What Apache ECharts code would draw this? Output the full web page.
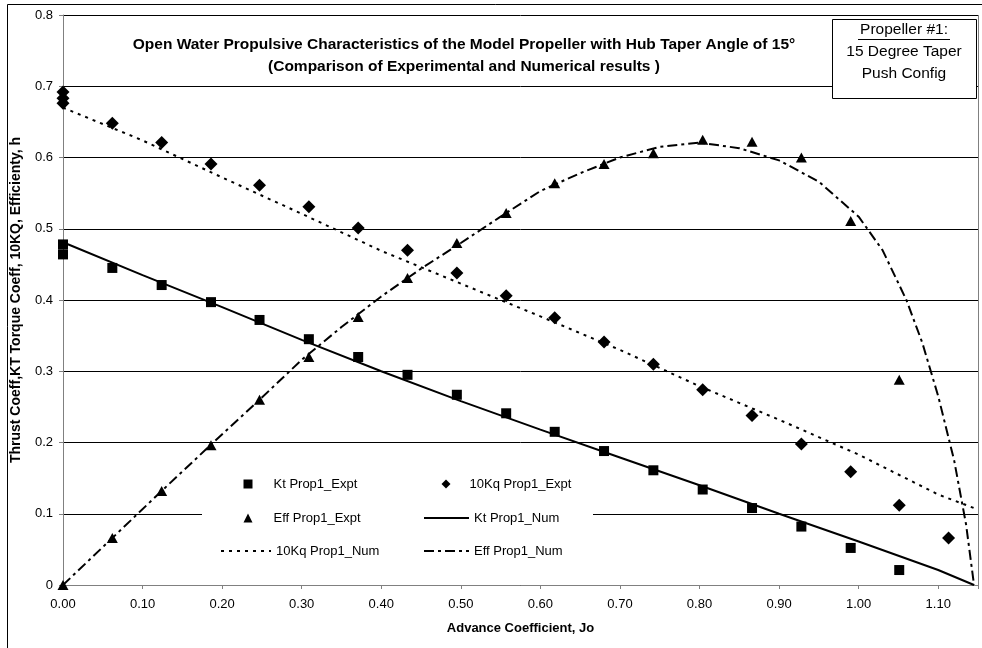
<!DOCTYPE html>
<html>
<head>
<meta charset="utf-8">
<script src="https://cdn.jsdelivr.net/npm/echarts@6/dist/echarts.min.js"></script>
<style>
    html, body { margin: 0; padding: 0; background: #fff; }
    #chart { width: 982px; height: 648px; }
</style>
</head>
<body>
<div id="chart"></div>
<script>
// advance coefficient of the test runs
var jExpt = [0.000, 0.062, 0.124, 0.186, 0.247, 0.309, 0.371, 0.433, 0.495, 0.557, 0.618, 0.680, 0.742, 0.804, 0.866, 0.928, 0.990, 1.051, 1.113];
var ktExpt = [0.478, 0.445, 0.421, 0.397, 0.372, 0.345, 0.320, 0.295, 0.267, 0.241, 0.215, 0.188, 0.161, 0.134, 0.108, 0.082, 0.052, 0.021, null];
var kqExpt = [0.692, 0.648, 0.621, 0.591, 0.561, 0.531, 0.501, 0.470, 0.438, 0.406, 0.375, 0.341, 0.310, 0.274, 0.238, 0.198, 0.159, 0.112, 0.066];
var effExpt = [0.000, 0.066, 0.132, 0.196, 0.260, 0.320, 0.376, 0.431, 0.480, 0.522, 0.564, 0.591, 0.606, 0.625, 0.622, 0.600, 0.511, 0.288, null];
// repeated runs at J = 0
var ktExptRepeat = [0.464];
var kqExptRepeat = [0.683, 0.676];

// numerical results
var jNum = [0.0, 0.1, 0.2, 0.3, 0.4, 0.5, 0.6, 0.7, 0.8, 0.9, 1.0, 1.1, 1.145];
var ktNum = [0.481, 0.435, 0.390, 0.344, 0.300, 0.258, 0.218, 0.179, 0.140, 0.100, 0.061, 0.021, 0.000];
var kqNum = [0.670, 0.624, 0.572, 0.521, 0.469, 0.423, 0.377, 0.330, 0.279, 0.232, 0.183, 0.127, 0.108];
var jEffNum = [0.0, 0.062, 0.124, 0.186, 0.247, 0.3, 0.35, 0.4, 0.45, 0.5, 0.55, 0.6, 0.65, 0.7, 0.75, 0.8, 0.85, 0.9, 0.95, 1.0, 1.03, 1.06, 1.08, 1.1, 1.12, 1.135, 1.145];
var effNum = [0.000, 0.066, 0.132, 0.197, 0.260, 0.316, 0.362, 0.405, 0.444, 0.480, 0.517, 0.553, 0.578, 0.600, 0.615, 0.621, 0.613, 0.596, 0.566, 0.517, 0.470, 0.400, 0.340, 0.265, 0.175, 0.085, 0.000];

var titleLines = ['Open Water Propulsive Characteristics of the Model Propeller with Hub Taper Angle of 15\u00b0',
    '(Comparison of Experimental and Numerical results )'];
var noteLines = ['Propeller #1:', '15 Degree Taper', 'Push Config'];

var FONT = '"Liberation Sans", Arial, sans-serif';
var NONE = 'rgba(0,0,0,0)';

// legend keys keep their shape when drawn as paths
var ICON_SQUARE = 'path://M0,0L10,0L10,10L0,10Z';
var ICON_DIAMOND = 'path://M5,0L10,5L5,10L0,5Z';
var ICON_TRIANGLE = 'path://M5,0L10,10L0,10Z';

function pairs(xs, ys, extra) {
    var out = [];
    for (var i = 0; i < xs.length; i++) {
        if (ys[i] !== null) out.push([xs[i], ys[i]]);
    }
    (extra || []).forEach(function (v) { out.push([0, v]); });
    return out;
}

// one legend per entry so the keys sit in Excel-like columns
function legendAt(name, icon, left, top, width, textPad) {
    var item = { name: name };
    if (icon) item.icon = icon;
    return {
        data: [item],
        left: left,
        top: top,
        padding: 0,
        itemWidth: width,
        itemHeight: 9,
        symbolKeepAspect: true,
        selectedMode: false,
        textStyle: { fontFamily: FONT, fontSize: 13, color: '#000', lineHeight: 16, padding: [0, 0, 0, textPad] }
    };
}

var chart = echarts.init(document.getElementById('chart'));

chart.setOption({
    animation: false,
    backgroundColor: '#fff',
    title: {
        text: titleLines.join('\n'),
        left: 464,
        top: 34,
        textAlign: 'center',
        padding: 0,
        textStyle: { fontFamily: FONT, fontSize: 15.5, fontWeight: 'bold', color: '#000', lineHeight: 22 }
    },
    grid: { left: 63, right: 4, top: 15, bottom: 63 },
    xAxis: {
        type: 'value',
        min: 0,
        max: 1.15,
        interval: 0.1,
        name: 'Advance Coefficient, Jo',
        nameLocation: 'middle',
        nameGap: 37,
        nameTextStyle: { fontFamily: FONT, fontSize: 13, fontWeight: 'bold', color: '#000' },
        axisLine: { lineStyle: { color: '#808080', width: 1 } },
        axisTick: { length: 4, lineStyle: { color: '#808080' } },
        splitLine: { show: false },
        axisLabel: {
            margin: 13,
            fontFamily: FONT,
            fontSize: 13,
            color: '#000',
            formatter: function (v) {
                return Math.abs(v * 10 - Math.round(v * 10)) < 1e-6 ? v.toFixed(2) : '';
            }
        }
    },
    yAxis: {
        type: 'value',
        min: 0,
        max: 0.8,
        interval: 0.1,
        name: 'Thrust Coeff,KT Torque Coeff, 10KQ, Efficienty, h',
        nameLocation: 'middle',
        nameGap: 40,
        nameTextStyle: { fontFamily: FONT, fontSize: 14, fontWeight: 'bold', color: '#000' },
        axisLine: { show: true, lineStyle: { color: '#808080', width: 1 } },
        axisTick: { show: true, length: 4, lineStyle: { color: '#808080' } },
        splitLine: { lineStyle: { color: '#000', width: 1 } },
        axisLabel: {
            margin: 10,
            fontFamily: FONT,
            fontSize: 13,
            color: '#000',
            formatter: function (v) { return v === 0 ? '0' : v.toFixed(1); }
        }
    },
    legend: [
        legendAt('Kt Prop1_Expt', ICON_SQUARE, 243.5, 476, 9, 16),
        legendAt('Eff Prop1_Expt', ICON_TRIANGLE, 243.5, 510, 9, 16),
        legendAt('10Kq Prop1_Num', null, 220, 543, 50, 0),
        legendAt('10Kq Prop1_Expt', ICON_DIAMOND, 441.5, 476, 9, 14),
        legendAt('Kt Prop1_Num', null, 423, 510, 45, 0),
        legendAt('Eff Prop1_Num', null, 423, 543, 45, 0)
    ],
    graphic: [
        // outer chart frame
        { type: 'rect', z: 0, silent: true, shape: { x: 7.5, y: 4.5, width: 1000, height: 700 },
          style: { fill: 'none', stroke: '#000', lineWidth: 1 } },
        // right edge of plot area
        { type: 'line', z: 1, silent: true, shape: { x1: 978.5, y1: 15, x2: 978.5, y2: 585 },
          style: { stroke: '#808080', lineWidth: 1 } },
        // legend background hides gridline
        { type: 'rect', z: 3, silent: true, shape: { x: 202, y: 458, width: 391, height: 112 },
          style: { fill: '#fff' } },
        // note box
        { type: 'rect', z: 5, silent: true, shape: { x: 832.5, y: 19.5, width: 144, height: 79 },
          style: { fill: '#fff', stroke: '#000', lineWidth: 1 } },
        { type: 'text', z: 6, silent: true, style: { text: noteLines[0], x: 904, y: 30, align: 'center', verticalAlign: 'middle', font: '15.5px ' + FONT, fill: '#000' } },
        { type: 'line', z: 6, silent: true, shape: { x1: 858, y1: 39.5, x2: 950, y2: 39.5 }, style: { stroke: '#000', lineWidth: 1 } },
        { type: 'text', z: 6, silent: true, style: { text: noteLines[1], x: 904, y: 52, align: 'center', verticalAlign: 'middle', font: '15.5px ' + FONT, fill: '#000' } },
        { type: 'text', z: 6, silent: true, style: { text: noteLines[2], x: 904, y: 74, align: 'center', verticalAlign: 'middle', font: '15.5px ' + FONT, fill: '#000' } }
    ],
    series: [
        {
            name: 'Kt Prop1_Expt', type: 'scatter', symbol: 'rect', symbolSize: 10, z: 3,
            itemStyle: { color: '#000', opacity: 1 },
            data: pairs(jExpt, ktExpt, ktExptRepeat)
        },
        {
            name: '10Kq Prop1_Expt', type: 'scatter', symbol: 'diamond', symbolSize: 13, z: 3,
            itemStyle: { color: '#000', opacity: 1 },
            data: pairs(jExpt, kqExpt, kqExptRepeat)
        },
        {
            name: 'Eff Prop1_Expt', type: 'scatter', symbol: 'triangle', symbolSize: [11, 10], z: 3,
            itemStyle: { color: '#000', opacity: 1 },
            data: pairs(jExpt, effExpt)
        },
        {
            name: 'Kt Prop1_Num', type: 'line', symbol: 'none', z: 2,
            itemStyle: { color: NONE },
            lineStyle: { color: '#000', width: 2 },
            data: pairs(jNum, ktNum)
        },
        {
            name: '10Kq Prop1_Num', type: 'line', symbol: 'none', z: 2,
            itemStyle: { color: NONE },
            lineStyle: { color: '#000', width: 2, type: [3, 5] },
            data: pairs(jNum, kqNum)
        },
        {
            name: 'Eff Prop1_Num', type: 'line', symbol: 'none', z: 2,
            itemStyle: { color: NONE },
            lineStyle: { color: '#000', width: 2, type: [10, 4, 3, 4] },
            data: pairs(jEffNum, effNum)
        }
    ]
});
</script>
</body>
</html>
